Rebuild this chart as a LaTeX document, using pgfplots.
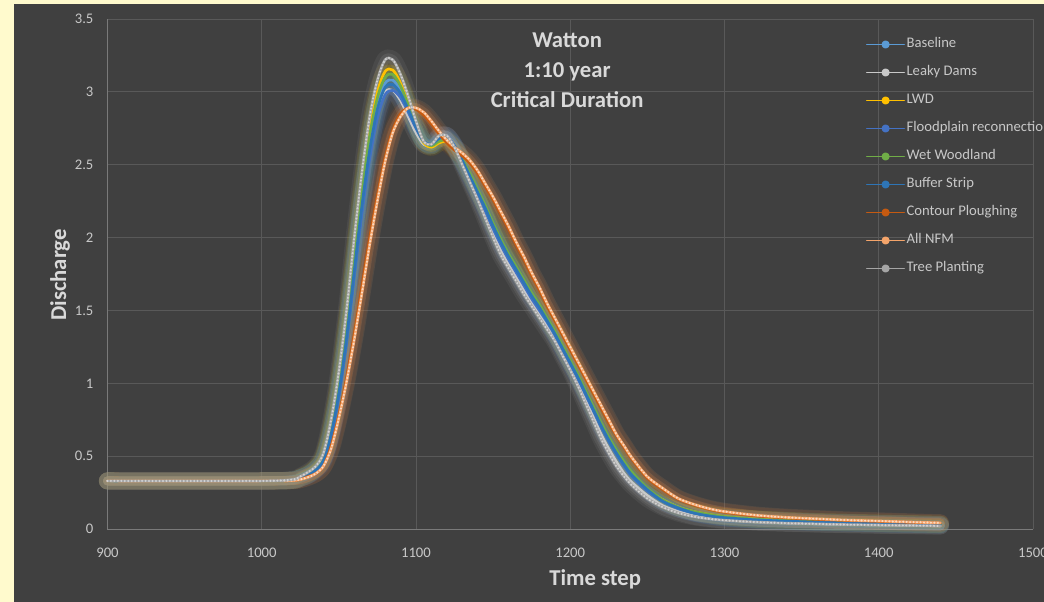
\documentclass[border=0pt]{standalone}
\usepackage{pgfplots}
\pgfplotsset{compat=1.18}
\usepackage{pgfplotstable}
\usepackage{fontspec}
\setmainfont{Carlito}
\definecolor{bgdark}{HTML}{404040}
\definecolor{cream}{HTML}{FFFACD}
\definecolor{gridc}{HTML}{595959}
\definecolor{axisc}{HTML}{7A7A7A}
\definecolor{tickc}{HTML}{C8C8C8}
\definecolor{labc}{HTML}{D9D9D9}
\definecolor{cBase}{HTML}{5B9BD5}
\definecolor{cLeaky}{HTML}{C9C9C9}
\definecolor{cLWD}{HTML}{FFC000}
\definecolor{cFlood}{HTML}{4472C4}
\definecolor{cWet}{HTML}{70AD47}
\definecolor{cBuffer}{HTML}{2E75B6}
\definecolor{cContour}{HTML}{C55A11}
\definecolor{cNFM}{HTML}{F4A46A}
\definecolor{cTree}{HTML}{A5A5A5}

\pgfplotstableread{
t    base  leaky lwd   flood wet   buffer contour nfm   tree
900  0.33  0.33  0.33  0.33  0.33  0.33   0.33    0.33  0.33
1000 0.33  0.33  0.33  0.33  0.33  0.33   0.33    0.33  0.33
1020 0.335 0.335 0.335 0.335 0.335 0.335  0.333   0.333 0.34
1025 0.35  0.35  0.355 0.348 0.35  0.35   0.34    0.34  0.36
1030 0.372 0.37  0.38  0.368 0.375 0.37   0.36    0.355 0.39
1035 0.41  0.41  0.42  0.40  0.415 0.405  0.38    0.38  0.43
1040 0.48  0.48  0.50  0.46  0.49  0.47   0.43    0.43  0.52
1045 0.67  0.66  0.71  0.63  0.69  0.65   0.57    0.55  0.75
1050 0.96  0.95  1.02  0.90  0.99  0.93   0.78    0.76  1.08
1055 1.35  1.34  1.43  1.27  1.39  1.31   1.04    1.01  1.50
1060 1.82  1.80  1.90  1.72  1.86  1.77   1.34    1.30  2.00
1065 2.27  2.24  2.36  2.16  2.32  2.22   1.67    1.62  2.45
1070 2.65  2.60  2.74  2.54  2.70  2.60   2.00    1.95  2.83
1075 2.92  2.86  3.00  2.82  2.96  2.88   2.29    2.25  3.08
1080 3.06  3.00  3.14  2.98  3.10  3.03   2.55    2.52  3.22
1085 3.08  3.01  3.15  3.01  3.12  3.05   2.74    2.72  3.22
1090 3.01  2.94  3.06  2.96  3.04  2.99   2.85    2.83  3.12
1095 2.89  2.83  2.92  2.86  2.91  2.88   2.89    2.89  2.97
1100 2.76  2.72  2.77  2.75  2.77  2.76   2.88    2.89  2.80
1105 2.66  2.64  2.65  2.66  2.66  2.66   2.84    2.86  2.66
1110 2.63  2.63  2.62  2.64  2.63  2.64   2.78    2.80  2.64
1115 2.67  2.69  2.65  2.69  2.66  2.68   2.71    2.73  2.70
1120 2.68  2.70  2.66  2.70  2.67  2.69   2.65    2.67  2.70
1125 2.62  2.63  2.61  2.63  2.62  2.63   2.60    2.62  2.62
1130 2.53  2.52  2.53  2.52  2.54  2.53   2.56    2.58  2.50
1135 2.43  2.40  2.43  2.41  2.44  2.42   2.51    2.53  2.38
1140 2.32  2.28  2.32  2.30  2.33  2.31   2.44    2.46  2.26
1145 2.21  2.16  2.21  2.18  2.22  2.20   2.35    2.37  2.13
1150 2.09  2.03  2.09  2.06  2.10  2.08   2.26    2.28  2.00
1155 1.98  1.91  1.98  1.95  1.99  1.97   2.16    2.18  1.88
1160 1.88  1.82  1.88  1.85  1.89  1.87   2.06    2.08  1.79
1165 1.79  1.73  1.79  1.76  1.80  1.78   1.95    1.97  1.70
1170 1.70  1.64  1.70  1.67  1.71  1.69   1.85    1.87  1.61
1175 1.61  1.56  1.61  1.58  1.62  1.60   1.74    1.76  1.53
1180 1.53  1.48  1.53  1.50  1.54  1.52   1.64    1.66  1.45
1185 1.44  1.40  1.44  1.42  1.45  1.43   1.53    1.55  1.37
1190 1.35  1.31  1.35  1.33  1.36  1.34   1.43    1.45  1.29
1195 1.25  1.21  1.25  1.23  1.26  1.24   1.33    1.35  1.19
1200 1.15  1.11  1.15  1.13  1.16  1.14   1.23    1.25  1.09
1205 1.05  1.00  1.05  1.03  1.06  1.04   1.13    1.15  0.98
1210 0.94  0.89  0.94  0.92  0.95  0.93   1.03    1.05  0.86
1215 0.83  0.77  0.83  0.81  0.84  0.82   0.93    0.95  0.74
1220 0.72  0.65  0.72  0.70  0.73  0.71   0.83    0.85  0.62
1225 0.62  0.55  0.62  0.60  0.63  0.61   0.73    0.75  0.52
1230 0.53  0.46  0.53  0.51  0.54  0.52   0.64    0.65  0.43
1235 0.45  0.38  0.45  0.43  0.46  0.44   0.56    0.57  0.36
1240 0.38  0.32  0.38  0.36  0.39  0.37   0.48    0.49  0.30
1250 0.27  0.23  0.27  0.26  0.28  0.27   0.35    0.36  0.21
1260 0.20  0.16  0.20  0.19  0.20  0.19   0.27    0.28  0.15
1270 0.15  0.12  0.15  0.14  0.15  0.145  0.205   0.21  0.11
1280 0.115 0.09  0.12  0.11  0.12  0.11   0.165   0.17  0.085
1290 0.095 0.075 0.10  0.09  0.10  0.09   0.135   0.14  0.07
1300 0.08  0.064 0.085 0.076 0.085 0.078  0.115   0.12  0.06
1320 0.065 0.05  0.068 0.062 0.068 0.063  0.09    0.095 0.048
1340 0.056 0.042 0.058 0.053 0.058 0.054  0.076   0.08  0.04
1360 0.048 0.036 0.05  0.046 0.05  0.047  0.066   0.07  0.035
1380 0.043 0.032 0.045 0.041 0.045 0.042  0.058   0.061 0.03
1400 0.038 0.028 0.04  0.036 0.04  0.037  0.052   0.055 0.027
1420 0.034 0.025 0.036 0.032 0.036 0.033  0.046   0.048 0.024
1440 0.03  0.022 0.032 0.028 0.032 0.029  0.04    0.042 0.021
}\flow

\begin{document}
\begin{tikzpicture}
\useasboundingbox (0,0) rectangle (783pt,451.5pt);
\fill[cream] (0,0) rectangle (783pt,451.5pt);
\fill[bgdark] (10.5pt,0) rectangle (783pt,448.5pt);
\begin{axis}[
  scale only axis, width=694.1pt, height=382.5pt,
  at={(80.6pt,54.75pt)}, anchor=south west,
  xmin=900, xmax=1500, ymin=0, ymax=3.5,
  xtick={900,1000,...,1500}, ytick={0,0.5,...,3.5},
  axis x line=bottom, axis y line=left,
  axis line style={-, draw=axisc, line width=0.6pt},
  grid=major, major grid style={draw=gridc, line width=0.6pt},
  major tick length=0pt,
  /pgf/number format/assume math mode=true,
  /pgf/number format/1000 sep={},
  ticklabel style={font=\fontsize{11}{12}\selectfont, text=tickc},
  yticklabel style={xshift=-7pt},
  xticklabel style={yshift=-11pt},
  clip=false,
  glowA/.style={forget plot, smooth, line width=13pt, opacity=0.10, line cap=round, line join=round},
  glowB/.style={forget plot, smooth, line width=7pt, opacity=0.16, line cap=round, line join=round},
  main/.style={smooth, line width=2pt, line cap=round, line join=round, mark=none},
  beads/.style={forget plot, smooth, line width=1.7pt, line cap=round, dash pattern=on 0pt off 2.6pt},
  legend image code/.code={\draw[#1, line width=1.4pt] (0pt,0pt) -- (28pt,0pt); \fill[#1] (14pt,0pt) circle (2pt);},
  legend cell align=left,
  legend style={at={(axis cs:1389,3.40)}, anchor=north west, draw=none, fill=none,
    font=\fontsize{11}{12}\selectfont, text=tickc, row sep=9pt,
    nodes={inner sep=1pt, text height=7.5pt, text depth=2.5pt}},
]
% glows
\addplot[glowA, color=cBase] table[x=t,y=base] {\flow};
\addplot[glowA, color=cLeaky] table[x=t,y=leaky] {\flow};
\addplot[glowA, color=cLWD] table[x=t,y=lwd] {\flow};
\addplot[glowA, color=cFlood] table[x=t,y=flood] {\flow};
\addplot[glowA, color=cWet] table[x=t,y=wet] {\flow};
\addplot[glowA, color=cBuffer] table[x=t,y=buffer] {\flow};
\addplot[glowA, color=cContour] table[x=t,y=contour] {\flow};
\addplot[glowA, color=cNFM] table[x=t,y=nfm] {\flow};
\addplot[glowA, color=cTree] table[x=t,y=tree] {\flow};
\addplot[glowB, color=cBase] table[x=t,y=base] {\flow};
\addplot[glowB, color=cLeaky] table[x=t,y=leaky] {\flow};
\addplot[glowB, color=cLWD] table[x=t,y=lwd] {\flow};
\addplot[glowB, color=cFlood] table[x=t,y=flood] {\flow};
\addplot[glowB, color=cWet] table[x=t,y=wet] {\flow};
\addplot[glowB, color=cBuffer] table[x=t,y=buffer] {\flow};
\addplot[glowB, color=cContour] table[x=t,y=contour] {\flow};
\addplot[glowB, color=cNFM] table[x=t,y=nfm] {\flow};
\addplot[glowB, color=cTree] table[x=t,y=tree] {\flow};
% main lines
\addplot[main, color=cBase] table[x=t,y=base] {\flow};
\addlegendentry{Baseline}
\addplot[main, color=cLeaky] table[x=t,y=leaky] {\flow};
\addlegendentry{Leaky Dams}
\addplot[main, color=cLWD] table[x=t,y=lwd] {\flow};
\addlegendentry{LWD}
\addplot[main, color=cFlood] table[x=t,y=flood] {\flow};
\addlegendentry{Floodplain reconnection}
\addplot[main, color=cWet] table[x=t,y=wet] {\flow};
\addlegendentry{Wet Woodland}
\addplot[main, color=cBuffer] table[x=t,y=buffer] {\flow};
\addlegendentry{Buffer Strip}
\addplot[main, color=cContour] table[x=t,y=contour] {\flow};
\addlegendentry{Contour Ploughing}
\addplot[main, color=cNFM] table[x=t,y=nfm] {\flow};
\addlegendentry{All NFM}
\addplot[beads, color=cNFM!40!white] table[x=t,y=nfm] {\flow};
\addplot[main, color=cTree] table[x=t,y=tree] {\flow};
\addlegendentry{Tree Planting}
\addplot[beads, color=cTree!50!white] table[x=t,y=tree] {\flow};
% titles
\node[align=center, font=\bfseries\fontsize{17}{22.5}\selectfont, text=labc] at (axis cs:1198,3.15) {Watton\\1:10 year\\Critical Duration};
\path (rel axis cs:0.527,0) ++(0pt,-38pt) node[font=\bfseries\fontsize{17}{20}\selectfont, text=labc] {Time step};
\path (rel axis cs:0,0.498) ++(-35.6pt,0pt) node[font=\bfseries\fontsize{17}{20}\selectfont, text=labc, rotate=90] {Discharge};
\end{axis}
\end{tikzpicture}
\end{document}
